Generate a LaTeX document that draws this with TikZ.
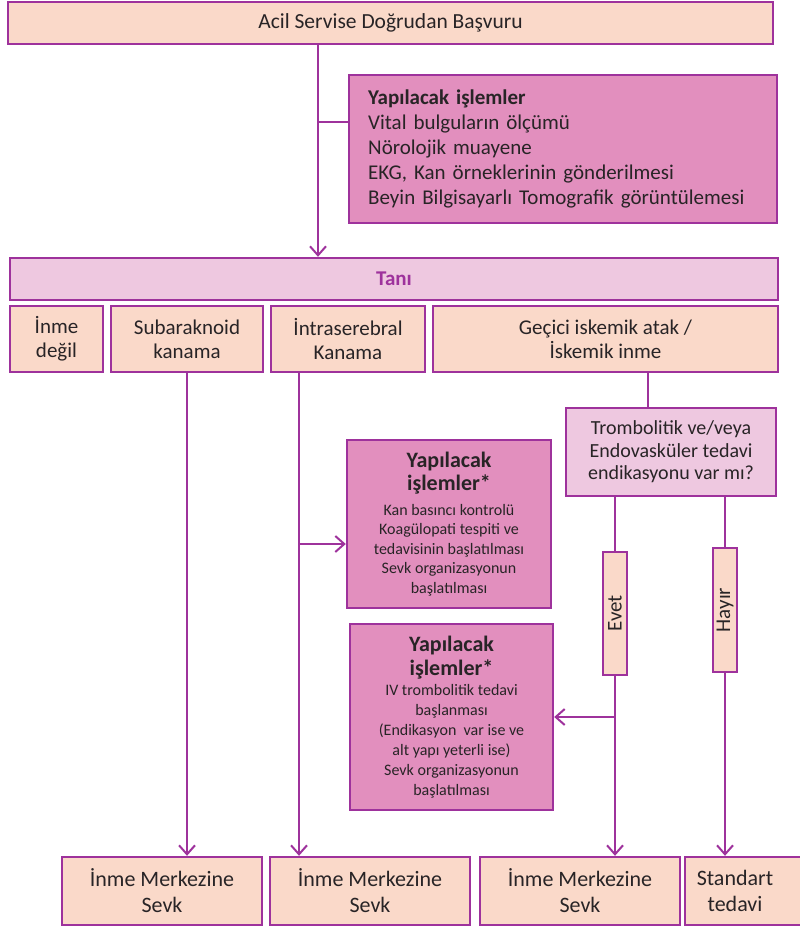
\documentclass[tikz,border=0pt]{standalone}
\usepackage{fontspec}
\setmainfont{Carlito}
\usetikzlibrary{arrows.meta,calc}
\definecolor{edge}{RGB}{158,50,156}
\definecolor{peach}{RGB}{250,217,201}
\definecolor{rose}{RGB}{226,143,190}
\definecolor{blush}{RGB}{238,200,224}
\definecolor{ink}{RGB}{40,36,38}
\newcommand{\headline}[1]{{\fontsize{22}{24}\selectfont\bfseries #1}}
\tikzset{
  box/.style={draw=edge, line width=2.4pt, inner sep=0pt, align=center, text=ink,
    font=\fontsize{21}{24}\selectfont},
  peachbox/.style={box, fill=peach},
  rosebox/.style={box, fill=rose},
  blushbox/.style={box, fill=blush},
  link/.style={draw=edge, line width=2pt},
  arr/.style={link, -{Straight Barb[length=9pt,width=16pt,line width=2pt]}},
}
\begin{document}
\begin{tikzpicture}[x=1pt,y=-1pt]
\useasboundingbox (0,0) rectangle (800,930);

% header and general workup
\node[peachbox, minimum width=765pt, minimum height=42pt, font=\fontsize{21.5}{24}\selectfont] (top) at (390.5,23) {Acil Servise Doğrudan Başvuru};
\node[rosebox, anchor=north west, text width=390pt, inner xsep=19pt, minimum height=148pt, align=left,
  font=\fontsize{21}{25}\selectfont] (todo) at (348,74)
  {\textbf{Yapılacak işlemler}\\Vital bulguların ölçümü\\Nörolojik muayene\\EKG, Kan örneklerinin gönderilmesi\\Beyin Bilgisayarlı Tomografik görüntülemesi};

% diagnosis bar and categories
\node[blushbox, minimum width=768pt, minimum height=42pt, text=edge, font=\fontsize{21}{24}\selectfont\bfseries] (tani) at (394,279) {Tanı};
\node[peachbox, minimum width=93pt, minimum height=66pt] (r1) at (56.5,339) {İnme\\değil};
\node[peachbox, minimum width=152pt, minimum height=66pt] (r2) at (187,339) {Subaraknoid\\kanama};
\node[peachbox, minimum width=154pt, minimum height=66pt] (r3) at (348,339) {İntraserebral\\Kanama};
\node[peachbox, minimum width=345pt, minimum height=66pt] (r4) at (605.5,339) {Geçici iskemik atak /\\İskemik inme};

% decision and branches
\node[blushbox, minimum width=210pt, minimum height=88pt, font=\fontsize{20}{22.5}\selectfont] (q) at (671,452)
  {Trombolitik ve/veya\\Endovasküler tedavi\\endikasyonu var mı?};
\node[peachbox, minimum width=24pt, minimum height=123pt] (evet) at (615,613.5) {};
\node[rotate=90, text=ink, font=\fontsize{21}{24}\selectfont] at (evet.center) {Evet};
\node[peachbox, minimum width=24pt, minimum height=124pt] (hayir) at (725,610) {};
\node[rotate=90, text=ink, font=\fontsize{21}{24}\selectfont] at (hayir.center) {Hayır};

% procedure boxes
\node[rosebox, minimum width=204pt, minimum height=168pt, font=\fontsize{16}{19.5}\selectfont] (a1) at (449,524)
  {\headline{Yapılacak}\\[3.5pt]\headline{işlemler*}\\[5pt]Kan basıncı kontrolü\\Koagülopati tespiti ve\\tedavisinin başlatılması\\Sevk organizasyonun\\başlatılması};
\node[rosebox, minimum width=203pt, minimum height=186pt, font=\fontsize{16}{20}\selectfont] (a2) at (451.5,717)
  {\headline{Yapılacak}\\[4pt]\headline{işlemler*}\\IV trombolitik tedavi\\başlanması\\(Endikasyon\ \ var ise ve\\alt yapı yeterli ise)\\Sevk organizasyonun\\başlatılması};

% outcomes
\tikzset{endbox/.style={peachbox, minimum height=68pt, font=\fontsize{22}{26}\selectfont}}
\node[endbox, minimum width=200pt] (b1) at (162,891) {İnme Merkezine\\Sevk};
\node[endbox, minimum width=200pt] (b2) at (370,891) {İnme Merkezine\\Sevk};
\node[endbox, minimum width=200pt] (b3) at (580,891) {İnme Merkezine\\Sevk};
\node[endbox, minimum width=120pt] (b4) at (745,891) {\hspace*{-20pt}Standart\\\hspace*{-20pt}tedavi};

% connector anchor points
\coordinate (mainx) at (318,122);
\coordinate (icx) at (299,544);
\coordinate (gx) at (648,380);

\draw[arr] (top.south -| mainx) -- (tani.north -| mainx);
\draw[link] (mainx) -- (mainx -| todo.west);

\draw[arr] (r2.south) -- (r2.south |- b1.north);
\draw[arr] (r3.south -| icx) -- (icx |- b2.north);
\draw[arr] (icx) -- (icx -| a1.west);

\draw[link] (r4.south -| gx) -- (q.north -| gx);
\draw[link] (q.south -| evet.north) -- (evet.north);
\draw[link] (q.south -| hayir.north) -- (hayir.north);
\draw[arr] (evet.south) -- (evet.south |- b3.north);
\draw[arr] (evet.south |- a2.east) -- (a2.east);
\draw[arr] (hayir.south) -- (hayir.south |- b4.north);
\end{tikzpicture}
\end{document}
